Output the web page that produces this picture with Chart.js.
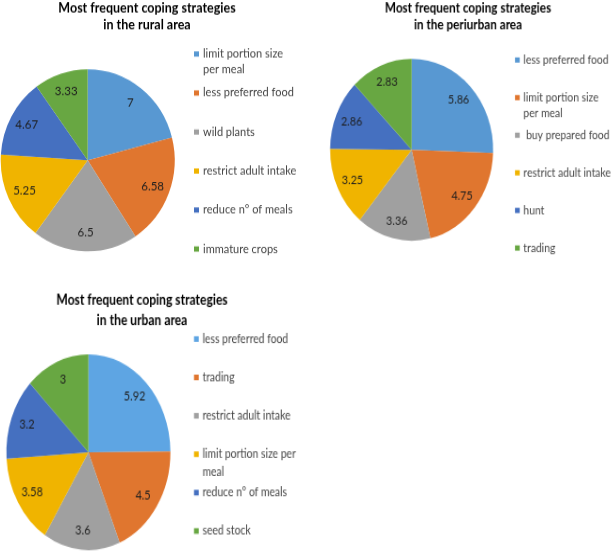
<!DOCTYPE html>
<html>
<head>
<meta charset="utf-8">
<script src="https://cdn.jsdelivr.net/npm/chart.js@4"></script>
<style>
  html, body { margin: 0; padding: 0; background: #fff; }
  #page { position: relative; width: 614px; height: 551px; overflow: hidden; }
  .holder { position: absolute; transform-origin: 0 0; }
  .holder canvas { display: block; }
</style>
</head>
<body>
<div id="page"></div>
<script>
// ---- data ----
const ruralTitle = ['Most frequent coping strategies', 'in the rural area'];
const ruralLabels = [['limit portion size', 'per meal'], 'less preferred food', 'wild plants', 'restrict adult intake', 'reduce n\u00b0 of meals', 'immature crops'];
const ruralValues = [7, 6.58, 6.5, 5.25, 4.67, 3.33];

const periTitle = ['Most frequent coping strategies', 'in the periurban area'];
const periLabels = ['less preferred food', ['limit portion size', 'per meal'], ' buy prepared food', 'restrict adult intake', 'hunt', 'trading'];
const periValues = [5.86, 4.75, 3.36, 3.25, 2.86, 2.83];

const urbanTitle = ['Most frequent coping strategies', 'in the urban area'];
const urbanLabels = ['less preferred food', 'trading', 'restrict adult intake', ['limit portion size per', 'meal'], 'reduce n\u00b0 of meals', 'seed stock'];
const urbanValues = [5.92, 4.5, 3.6, 3.58, 3.2, 3];

// office-like palette
const palette = ['#5898d2', '#e0762f', '#a0a0a0', '#f0b400', '#4570c0', '#68a742'];
const urbanPalette = ['#5ea5e3', '#e0762f', '#a0a0a0', '#f0b400', '#4570c0', '#68a742'];

const FONT = 'Lato, "Open Sans", sans-serif';

// layout, in page pixels (the picture is stretched a bit differently per panel)
const panels = [
  { title: ruralTitle, labels: ruralLabels, values: ruralValues, colors: palette,
    box: { left: 0, top: 0, width: 302, height: 262 }, sx: 1, sy: 1.046,
    pie: { cx: 87.7, cy: 160.5, r: 87 },
    titleX: 147, titleY: 8.5, titleLine: 16.5, titleSize: 12.5,
    legendX: 194, legendY: 54, legendGap: 39, legendLine: 16 },
  { title: periTitle, labels: periLabels, values: periValues, colors: palette,
    box: { left: 305, top: 0, width: 309, height: 262 }, sx: 0.937, sy: 1.046,
    pie: { cx: 411.5, cy: 150, r: 81.5 },
    titleX: 468, titleY: 8.5, titleLine: 16.5, titleSize: 12.5,
    legendX: 515, legendY: 60, legendGap: 37.6, legendLine: 15.5 },
  { title: urbanTitle, labels: urbanLabels, values: urbanValues, colors: urbanPalette,
    box: { left: 0, top: 280, width: 302, height: 271 }, sx: 0.943, sy: 1.126,
    pie: { cx: 88.5, cy: 452, r: 82 },
    titleX: 142, titleY: 300, titleLine: 20.5, titleSize: 12.8,
    legendX: 194, legendY: 339, legendGap: 38.4, legendLine: 18 }
];

// value labels inside the slices
const sliceValues = {
  id: 'sliceValues',
  afterDatasetsDraw(chart) {
    const ctx = chart.ctx;
    const ds = chart.data.datasets[0];
    ctx.save();
    ctx.font = '11.5px ' + FONT;
    ctx.fillStyle = '#1e1e1e';
    ctx.textAlign = 'center';
    ctx.textBaseline = 'middle';
    chart.getDatasetMeta(0).data.forEach((arc, i) => {
      const p = arc.getProps(['x', 'y', 'startAngle', 'endAngle', 'outerRadius'], true);
      const mid = (p.startAngle + p.endAngle) / 2;
      const d = p.outerRadius * 0.8;
      ctx.fillText(String(ds.data[i]), p.x + Math.cos(mid) * d, p.y + Math.sin(mid) * d);
    });
    ctx.restore();
  }
};

// title + legend drawn beside the pie
const sideText = {
  id: 'sideText',
  afterDraw(chart, args, o) {
    const ctx = chart.ctx;
    const ds = chart.data.datasets[0];
    ctx.save();
    ctx.textBaseline = 'middle';
    ctx.textAlign = 'center';
    ctx.fillStyle = '#000';
    ctx.font = 'bold ' + o.titleSize + 'px ' + FONT;
    o.title.forEach((t, i) => ctx.fillText(t, o.titleX, o.titleY + i * o.titleLine));

    ctx.textAlign = 'left';
    ctx.font = '11px ' + FONT;
    chart.data.labels.forEach((lab, i) => {
      const y = o.legendY + i * o.legendGap;
      ctx.fillStyle = ds.backgroundColor[i];
      ctx.fillRect(o.legendX, y - 2.5, 5, 5);
      ctx.fillStyle = '#444';
      [].concat(lab).forEach((line, j) => ctx.fillText(line, o.legendX + 9, y + j * o.legendLine));
    });
    ctx.restore();
  }
};

const page = document.getElementById('page');

panels.forEach(p => {
  const w = p.box.width / p.sx;
  const h = p.box.height / p.sy;
  // page -> canvas coords
  const cx = (p.pie.cx - p.box.left) / p.sx;
  const cy = (p.pie.cy - p.box.top) / p.sy;
  const r = p.pie.r / p.sx;

  const holder = document.createElement('div');
  holder.className = 'holder';
  holder.style.left = p.box.left + 'px';
  holder.style.top = p.box.top + 'px';
  holder.style.width = w + 'px';
  holder.style.height = h + 'px';
  holder.style.transform = `scale(${p.sx}, ${p.sy})`;
  const canvas = document.createElement('canvas');
  canvas.width = Math.round(w);
  canvas.height = Math.round(h);
  holder.appendChild(canvas);
  page.appendChild(holder);

  new Chart(canvas, {
    type: 'pie',
    data: {
      labels: p.labels,
      datasets: [{
        data: p.values,
        backgroundColor: p.colors,
        borderWidth: 0,
        hoverBorderWidth: 0,
        hoverOffset: 0,
        offset: 0,
        radius: r
      }]
    },
    options: {
      responsive: false,
      animation: false,
      events: [],
      layout: {
        padding: { left: cx - r, right: w - cx - r, top: cy - r, bottom: h - cy - r }
      },
      plugins: {
        legend: { display: false },
        title: { display: false },
        tooltip: { enabled: false },
        sideText: {
          title: p.title,
          titleSize: p.titleSize,
          titleX: (p.titleX - p.box.left) / p.sx,
          titleY: (p.titleY - p.box.top) / p.sy,
          titleLine: p.titleLine / p.sy,
          legendX: (p.legendX - p.box.left) / p.sx,
          legendY: (p.legendY - p.box.top) / p.sy,
          legendGap: p.legendGap / p.sy,
          legendLine: p.legendLine / p.sy
        }
      }
    },
    plugins: [sliceValues, sideText]
  });
});
</script>
</body>
</html>
